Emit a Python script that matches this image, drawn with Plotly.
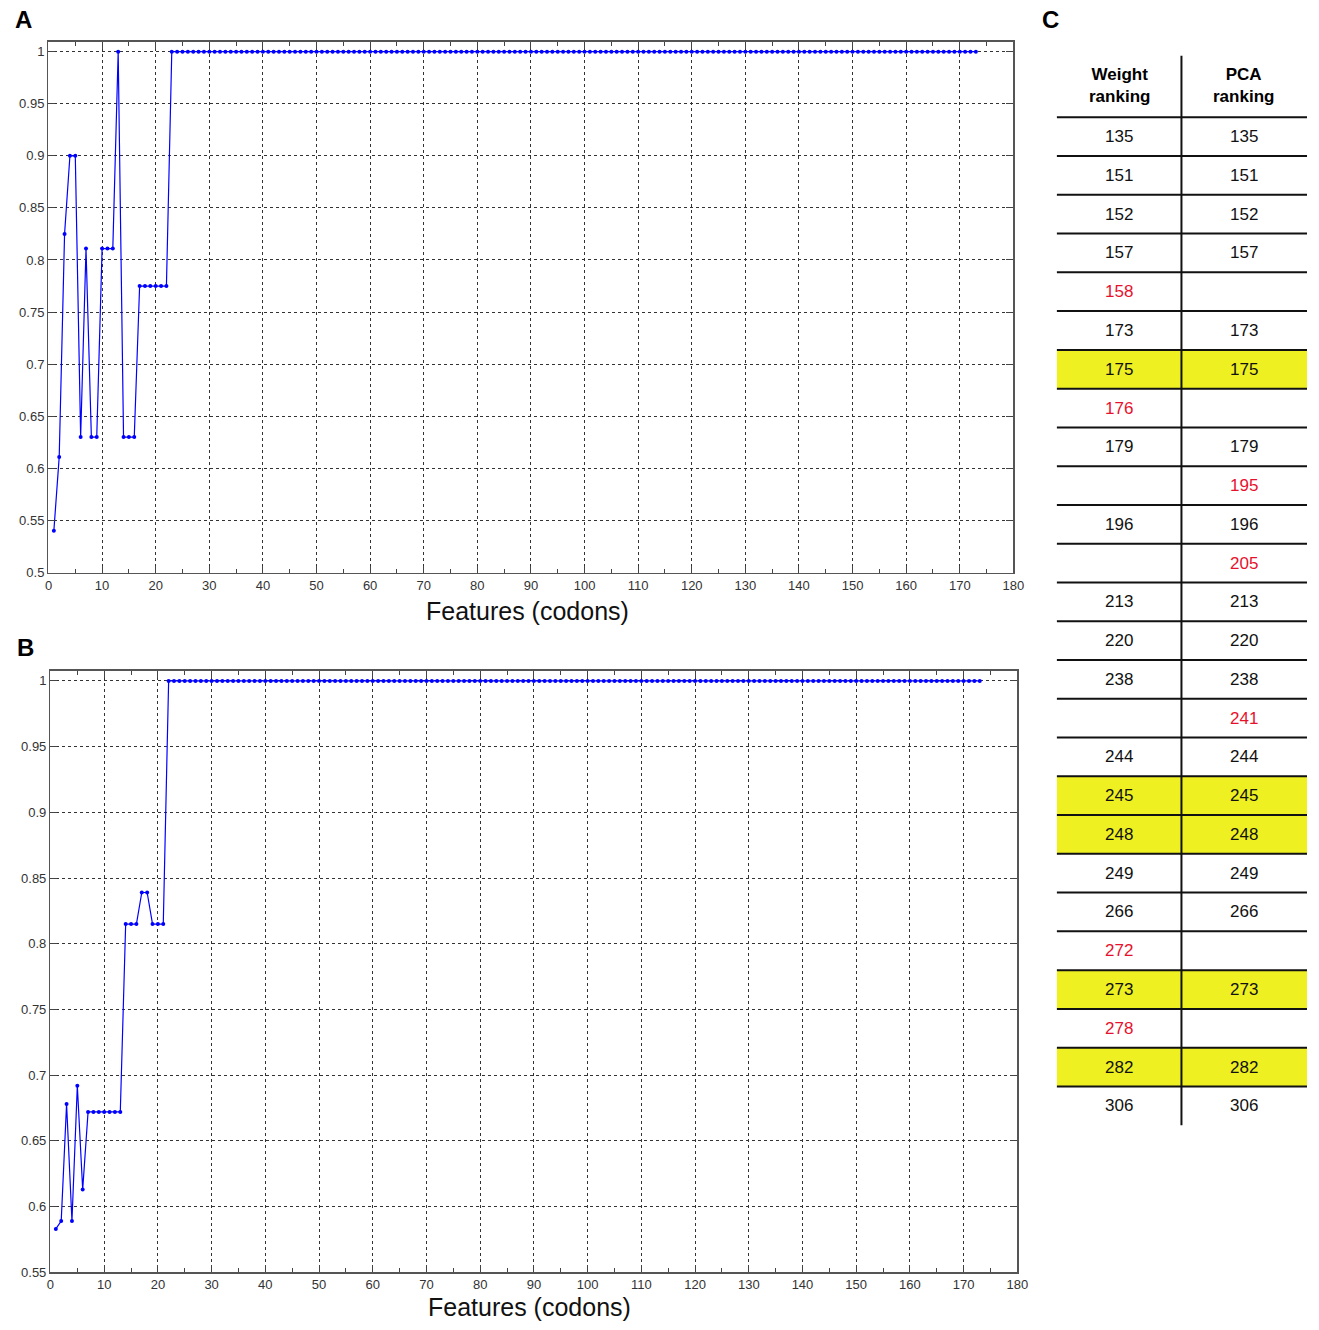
import plotly.graph_objects as go

W, H = 1319, 1330

# ---------------- data ----------------
features_a = list(range(1, 174))
accuracy_a_start = [0.54, 0.611, 0.825, 0.9, 0.9, 0.63, 0.811, 0.63, 0.63, 0.811,
                    0.811, 0.811, 1.0, 0.63, 0.63, 0.63, 0.775, 0.775, 0.775, 0.775,
                    0.775, 0.775]
accuracy_a = accuracy_a_start + [1.0] * (len(features_a) - len(accuracy_a_start))

features_b = list(range(1, 174))
accuracy_b_start = [0.583, 0.589, 0.678, 0.589, 0.692, 0.613, 0.672, 0.672, 0.672, 0.672,
                    0.672, 0.672, 0.672, 0.815, 0.815, 0.815, 0.839, 0.839, 0.815, 0.815,
                    0.815]
accuracy_b = accuracy_b_start + [1.0] * (len(features_b) - len(accuracy_b_start))

x_ticks = list(range(0, 181, 10))
y_ticks_a = [0.5, 0.55, 0.6, 0.65, 0.7, 0.75, 0.8, 0.85, 0.9, 0.95, 1.0]
y_labels_a = ["0.5", "0.55", "0.6", "0.65", "0.7", "0.75", "0.8", "0.85", "0.9", "0.95", "1"]
y_ticks_b = [0.55, 0.6, 0.65, 0.7, 0.75, 0.8, 0.85, 0.9, 0.95, 1.0]
y_labels_b = ["0.55", "0.6", "0.65", "0.7", "0.75", "0.8", "0.85", "0.9", "0.95", "1"]

weight_ranking = ["135", "151", "152", "157", "158", "173", "175", "176", "179", "",
                  "196", "", "213", "220", "238", "", "244", "245", "248", "249",
                  "266", "272", "273", "278", "282", "306"]
pca_ranking = ["135", "151", "152", "157", "", "173", "175", "", "179", "195",
               "196", "205", "213", "220", "238", "241", "244", "245", "248", "249",
               "266", "", "273", "", "282", "306"]
highlighted = ["175", "245", "248", "273", "282"]

def px(x):
    return x / W

def py(y):
    return 1 - y / H

fig = go.Figure()

fig.add_trace(go.Scatter(x=features_a, y=accuracy_a, mode="lines+markers",
                         line=dict(color="#0000ff", width=1.2),
                         marker=dict(color="#0000ff", size=4),
                         xaxis="x", yaxis="y", showlegend=False, hoverinfo="skip"))
fig.add_trace(go.Scatter(x=features_b, y=accuracy_b, mode="lines+markers",
                         line=dict(color="#0000ff", width=1.2),
                         marker=dict(color="#0000ff", size=4),
                         xaxis="x2", yaxis="y2", showlegend=False, hoverinfo="skip"))

tickfont = dict(family="Liberation Sans, Arial, sans-serif", size=13, color="#333333")

def xaxis_cfg(domain, anchor):
    return dict(domain=domain, anchor=anchor, range=[0, 180],
                tickmode="array", tickvals=x_ticks, ticktext=[str(v) for v in x_ticks],
                ticks="inside", ticklen=7, tickcolor="#444444", tickwidth=1,
                showline=True, linecolor="#555555", linewidth=1.5, mirror="ticks",
                showgrid=True, gridcolor="#333333", griddash="dot", gridwidth=1,
                minor=dict(ticks="inside", dtick=5, tick0=0, ticklen=4, tickcolor="#444444", showgrid=False),
                tickfont=tickfont, zeroline=False, fixedrange=True)

def yaxis_cfg(domain, anchor, rng, vals, labels):
    return dict(domain=domain, anchor=anchor, range=rng,
                tickmode="array", tickvals=vals, ticktext=labels,
                ticks="inside", ticklen=7, tickcolor="#444444", tickwidth=1,
                showline=True, linecolor="#555555", linewidth=1.5, mirror="ticks",
                showgrid=True, gridcolor="#333333", griddash="dot", gridwidth=1,
                tickfont=tickfont, zeroline=False, fixedrange=True)

fig.update_layout(
    width=W, height=H, autosize=False,
    margin=dict(l=0, r=0, t=0, b=0, pad=0),
    paper_bgcolor="white", plot_bgcolor="white",
    xaxis=xaxis_cfg([px(45), px(1021)], "y"),
    yaxis=yaxis_cfg([py(576), py(42)], "x", [0.5, 1.0095], y_ticks_a, y_labels_a),
    xaxis2=xaxis_cfg([px(47), px(1025)], "y2"),
    yaxis2=yaxis_cfg([py(1280), py(675)], "x2", [0.55, 1.0076], y_ticks_b, y_labels_b),
)

annotations = []
shapes = []

for letter, (lx, ly) in {"A": (20, 20), "B": (22, 651), "C": (1059, 20)}.items():
    annotations.append(dict(text="<b>%s</b>" % letter, x=px(lx), y=py(ly), xref="paper", yref="paper",
                            showarrow=False, xanchor="center", yanchor="middle",
                            font=dict(family="Liberation Sans, Arial, sans-serif", size=24, color="black")))

annotations.append(dict(text="Features (codons)", x=px(530), y=py(615), xref="paper", yref="paper",
                        showarrow=False, xanchor="center", yanchor="middle",
                        font=dict(family="Liberation Sans, Arial, sans-serif", size=25, color="#111111")))
annotations.append(dict(text="Features (codons)", x=px(532), y=py(1330), xref="paper", yref="paper",
                        showarrow=False, xanchor="center", yanchor="bottom", borderpad=0,
                        font=dict(family="Liberation Sans, Arial, sans-serif", size=25, color="#111111")))

tx0, tx1, tmid = 1065, 1318, 1191
col_c = [1128, 1254]
row_top = 118
row_h = 39
n_rows = len(weight_ranking)

hdr_font = dict(family="Liberation Sans, Arial, sans-serif", size=17, color="black")
annotations.append(dict(text="<b>Weight<br>ranking</b>", x=px(col_c[0]), y=py(86), xref="paper", yref="paper",
                        showarrow=False, xanchor="center", yanchor="middle", font=hdr_font))
annotations.append(dict(text="<b>PCA<br>ranking</b>", x=px(col_c[1]), y=py(86), xref="paper", yref="paper",
                        showarrow=False, xanchor="center", yanchor="middle", font=hdr_font))

for i in range(n_rows):
    y0 = row_top + i * row_h
    y1 = y0 + row_h
    w = weight_ranking[i]
    p = pca_ranking[i]
    if (w and w in highlighted) or (p and p in highlighted):
        shapes.append(dict(type="rect", xref="paper", yref="paper",
                           x0=px(tx0), x1=px(tx1), y0=py(y1), y1=py(y0),
                           fillcolor="#eef022", line=dict(width=0), layer="below"))
    for j, val in enumerate([w, p]):
        if not val:
            continue
        only_one = not (w and p)
        color = "#e8112d" if only_one else "#111111"
        annotations.append(dict(text=val, x=px(col_c[j]), y=py(y0 + row_h / 2), xref="paper", yref="paper",
                                showarrow=False, xanchor="center", yanchor="middle",
                                font=dict(family="Liberation Sans, Arial, sans-serif", size=17, color=color)))
    shapes.append(dict(type="line", xref="paper", yref="paper",
                       x0=px(tx0), x1=px(tx1), y0=py(y0), y1=py(y0),
                       line=dict(color="#111111", width=2)))

shapes.append(dict(type="line", xref="paper", yref="paper",
                   x0=px(tmid), x1=px(tmid), y0=py(56), y1=py(row_top + n_rows * row_h),
                   line=dict(color="#111111", width=2)))

fig.update_layout(annotations=annotations, shapes=shapes)

fig.write_html("out.html", config={"staticPlot": True})
